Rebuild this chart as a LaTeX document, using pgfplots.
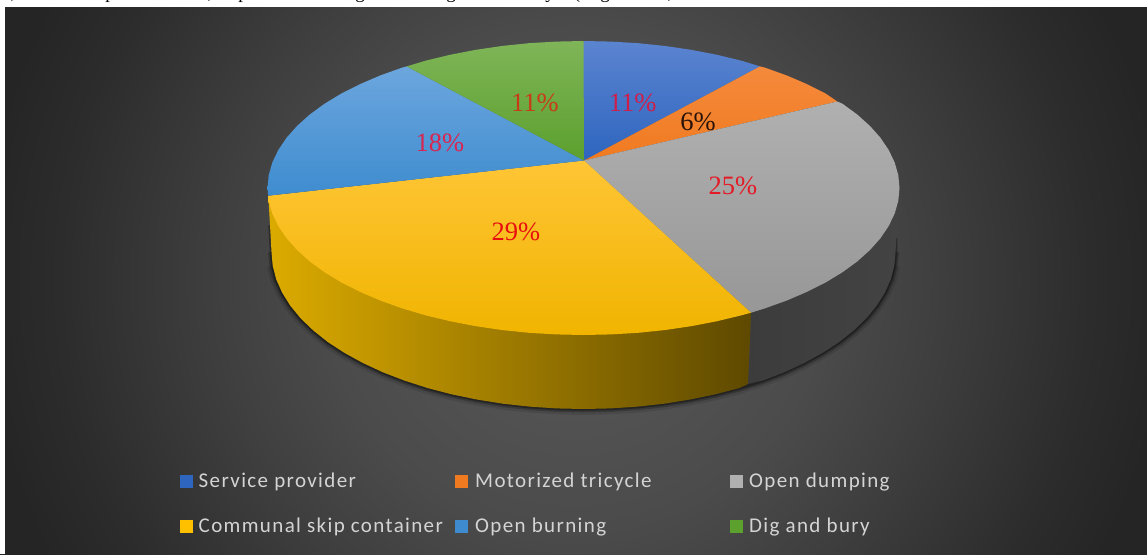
\documentclass[border=0pt]{standalone}
\usepackage{pgfplots}
\pgfplotsset{compat=1.18}
\usepackage{fontspec}
\setmainfont{Liberation Serif}
\newfontfamily\legendfont[LetterSpace=6.5]{Carlito}

\definecolor{glowA}{HTML}{5A5A5A}
\definecolor{glowB}{HTML}{4B4B4B}
\definecolor{glowC}{HTML}{3F3F3F}
\definecolor{glowD}{HTML}{2C2C2C}
\definecolor{glowE}{HTML}{252525}
\pgfdeclareradialshading{panelglow}{\pgfpointorigin}{%
  color(0bp)=(glowA); color(10.1bp)=(glowB); color(14.5bp)=(glowC);
  color(20.8bp)=(glowD); color(24bp)=(glowE); color(50bp)=(glowE)}

\definecolor{legendgrey}{HTML}{D4D4D4}
\definecolor{sideGreyL}{HTML}{3C3C3C}
\definecolor{sideGreyR}{HTML}{434343}
\definecolor{sideYellowL}{HTML}{DCAB00}
\definecolor{sideYellowR}{HTML}{5E4900}
\definecolor{blueT}{HTML}{5B84D0}
\definecolor{blueB}{HTML}{2E65BF}
\definecolor{orangeT}{HTML}{F58A3C}
\definecolor{orangeB}{HTML}{F07A20}
\definecolor{greyT}{HTML}{B0B0B0}
\definecolor{greyB}{HTML}{979797}
\definecolor{yellowT}{HTML}{FFC535}
\definecolor{yellowM}{HTML}{FFC000}
\definecolor{yellowB}{HTML}{F0B400}
\definecolor{skyT}{HTML}{6CA6DE}
\definecolor{skyB}{HTML}{3E8CCF}
\definecolor{greenT}{HTML}{7FB558}
\definecolor{greenB}{HTML}{5CA02E}
\definecolor{labelBlue}{HTML}{D01E4A}
\definecolor{labelDark}{HTML}{2A1208}
\definecolor{labelGrey}{HTML}{E41A26}
\definecolor{labelYellow}{HTML}{E8100F}
\definecolor{labelSky}{HTML}{D9254F}
\definecolor{labelGreen}{HTML}{C93A16}

\newcommand{\pct}[4]{\node[text=#4, font=\fontsize{26.5}{27}\selectfont] at (axis cs:#1,#2) {#3\%};}
\newcommand{\legtext}[3]{\node[anchor=base west, inner sep=0pt, text=legendgrey, font=\fontsize{21}{22}\legendfont] at (axis cs:#1,#2) {#3};}
\newcommand{\cutoff}[2]{\node[overlay, anchor=base, font=\fontsize{19}{20}\selectfont] at (axis cs:#1,-1.5) {#2};}

\begin{document}
\begin{tikzpicture}
\begin{axis}[
  scale only axis, width=1147pt, height=554pt,
  xmin=0, xmax=1147, ymin=0, ymax=554, y dir=reverse,
  hide axis, clip=true, enlargelimits=false]

% dark panel with a circular glow, then the white page margin round it
\addplot[overlay, draw=none, shading=panelglow]
  coordinates {(-45,-340) (1195,-340) (1195,900) (-45,900)} --cycle;
\addplot[fill=white, draw=none] coordinates {(0,0) (1147,0) (1147,7) (0,7)} --cycle;
\addplot[fill=white, draw=none] coordinates {(0,0) (4.5,0) (4.5,554) (0,554)} --cycle;

% soft shadow along the lower rim, three widths from wide and faint to narrow and dark
\addplot[draw=black, opacity=0.10, line width=12pt] coordinates {
 (894.3,265.7)(890.8,279.3)(884.9,292.6)(876.7,305.7)(866.3,318.4)(853.7,330.5)(839.1,342.1)(822.5,352.9)(804.1,363)(784.1,372.3)(762.5,380.6)(739.5,388)(715.4,394.3)(690.2,399.5)(664.2,403.7)(637.7,406.6)(610.7,408.4)(583.5,409)(556.3,408.4)(529.3,406.6)(502.8,403.7)(476.8,399.5)(451.6,394.3)(427.5,388)(404.5,380.6)(382.9,372.3)(362.9,363)(344.5,352.9)(327.9,342.1)(313.3,330.5)(300.7,318.4)(290.3,305.7)(282.1,292.6)(276.2,279.3)(272.7,265.7)};
\addplot[draw=black, opacity=0.22, line width=7pt] coordinates {
 (895.5,252)(894.3,265.7)(890.8,279.3)(884.9,292.6)(876.7,305.7)(866.3,318.4)(853.7,330.5)(839.1,342.1)(822.5,352.9)(804.1,363)(784.1,372.3)(762.5,380.6)(739.5,388)(715.4,394.3)(690.2,399.5)(664.2,403.7)(637.7,406.6)(610.7,408.4)(583.5,409)(556.3,408.4)(529.3,406.6)(502.8,403.7)(476.8,399.5)(451.6,394.3)(427.5,388)(404.5,380.6)(382.9,372.3)(362.9,363)(344.5,352.9)(327.9,342.1)(313.3,330.5)(300.7,318.4)(290.3,305.7)(282.1,292.6)(276.2,279.3)(272.7,265.7)(271.5,252)};
\addplot[draw=black, opacity=0.35, line width=3.5pt] coordinates {
 (895.5,238)(895.5,252)(894.3,265.7)(890.8,279.3)(884.9,292.6)(876.7,305.7)(866.3,318.4)(853.7,330.5)(839.1,342.1)(822.5,352.9)(804.1,363)(784.1,372.3)(762.5,380.6)(739.5,388)(715.4,394.3)(690.2,399.5)(664.2,403.7)(637.7,406.6)(610.7,408.4)(583.5,409)(556.3,408.4)(529.3,406.6)(502.8,403.7)(476.8,399.5)(451.6,394.3)(427.5,388)(404.5,380.6)(382.9,372.3)(362.9,363)(344.5,352.9)(327.9,342.1)(313.3,330.5)(300.7,318.4)(290.3,305.7)(282.1,292.6)(276.2,279.3)(272.7,265.7)(271.5,252)(270,225)};

% side walls
\addplot[draw=none, left color=sideGreyL, right color=sideGreyR] coordinates {
 (899.5,188)(898.3,200.8)(894.7,213.5)(888.7,226)(880.4,238.3)(751,312.7)
 (748,384)(762.5,380.6)(784.1,372.3)(804.1,363)(822.5,352.9)(839.1,342.1)(853.7,330.5)(866.3,318.4)(876.7,305.7)(884.9,292.6)(890.8,279.3)(894.3,265.7)(895.5,252)} --cycle;
\addplot[draw=none, left color=sideYellowL, right color=sideYellowR] coordinates {
 (751,312.7)(741.5,315.3)(717,321.2)(583.5,300)(268.3,195.7)(270,225)
 (271.5,252)(272.7,265.7)(276.2,279.3)(282.1,292.6)(290.3,305.7)(300.7,318.4)(313.3,330.5)(327.9,342.1)(344.5,352.9)(362.9,363)(382.9,372.3)(404.5,380.6)(427.5,388)(451.6,394.3)(476.8,399.5)(502.8,403.7)(529.3,406.6)(556.3,408.4)(583.5,409)(610.7,408.4)(637.7,406.6)(664.2,403.7)(690.2,399.5)(715.4,394.3)(739.5,388)(748,384)} --cycle;

% top faces, clockwise from twelve o'clock
\addplot[draw=none, top color=blueT, bottom color=blueB] coordinates {
 (584,160.5)(583.5,41)(611.1,41.6)(638.4,43.2)(665.3,46)(691.6,49.9)(717,54.8)(741.5,60.7)(760,66.4)} --cycle;
\addplot[draw=none, top color=orangeT, bottom color=orangeB] coordinates {
 (584,160.5)(760,66.4)(764.8,67.6)(786.6,75.4)(806.9,84.1)(825.6,93.5)(837.3,101.5)} --cycle;
\addplot[draw=none, top color=greyT, bottom color=greyB] coordinates {
 (584,160.5)(837.3,101.5)(842.4,103.7)(857.2,114.5)(869.9,125.9)(880.4,137.7)(888.7,150)(894.7,162.5)(898.3,175.2)(899.5,188)(898.3,200.8)(894.7,213.5)(888.7,226)(880.4,238.3)(869.9,250.1)(857.2,261.5)(842.4,272.3)(825.6,282.5)(806.9,291.9)(786.6,300.6)(764.8,308.4)(751,312.7)} --cycle;
\addplot[draw=none, top color=yellowT, middle color=yellowM, bottom color=yellowB] coordinates {
 (584,160.5)(751,312.7)(741.5,315.3)(717,321.2)(691.6,326.1)(665.3,330)(638.4,332.8)(611.1,334.4)(583.5,335)(555.9,334.4)(528.6,332.8)(501.7,330)(475.4,326.1)(450,321.2)(425.5,315.3)(402.2,308.4)(380.4,300.6)(360.1,291.9)(341.4,282.5)(324.6,272.3)(309.8,261.5)(297.1,250.1)(286.6,238.3)(278.3,226)(272.3,213.5)(268.7,200.8)(268.3,195.7)} --cycle;
\addplot[draw=none, top color=skyT, bottom color=skyB] coordinates {
 (584,160.5)(268.3,195.7)(267.5,188)(268.7,175.2)(272.3,162.5)(278.3,150)(286.6,137.7)(297.1,125.9)(309.8,114.5)(324.6,103.7)(341.4,93.5)(360.1,84.1)(380.4,75.4)(402.2,67.6)(406.7,66.4)} --cycle;
\addplot[draw=none, top color=greenT, bottom color=greenB] coordinates {
 (584,160.5)(406.7,66.4)(425.5,60.7)(450,54.8)(475.4,49.9)(501.7,46)(528.6,43.2)(555.9,41.6)(583.5,41)} --cycle;

% legend swatches
\addplot[only marks, mark=square*, mark size=6pt, color=blueB]   coordinates {(186,481)};
\addplot[only marks, mark=square*, mark size=6pt, color=orangeB] coordinates {(461,481)};
\addplot[only marks, mark=square*, mark size=6pt, color=greyT]   coordinates {(736,481)};
\addplot[only marks, mark=square*, mark size=6pt, color=yellowM] coordinates {(186,526)};
\addplot[only marks, mark=square*, mark size=6pt, color=skyB]    coordinates {(461,526)};
\addplot[only marks, mark=square*, mark size=6pt, color=greenB]  coordinates {(736,526)};

% data labels
\pct{632.7}{102.7}{11}{labelBlue}
\pct{698}{122}{6}{labelDark}
\pct{733}{186}{25}{labelGrey}
\pct{516}{232}{29}{labelYellow}
\pct{440}{142.7}{18}{labelSky}
\pct{535}{102.7}{11}{labelGreen}

% legend entries
\legtext{198.5}{487.7}{Service provider}
\legtext{475}{487.7}{Motorized tricycle}
\legtext{749}{487.7}{Open dumping}
\legtext{198.5}{532.7}{Communal skip container}
\legtext{475}{532.7}{Open burning}
\legtext{749}{532.7}{Dig and bury}

% descenders of the running text above the panel
\cutoff{13}{,}
\cutoff{110}{p}
\cutoff{210}{,}
\cutoff{243}{p}
\cutoff{360}{g}
\cutoff{451}{g}
\cutoff{550}{y}
\cutoff{577}{(}
\cutoff{605}{g}
\cutoff{670}{,}
\end{axis}
\end{tikzpicture}
\end{document}
